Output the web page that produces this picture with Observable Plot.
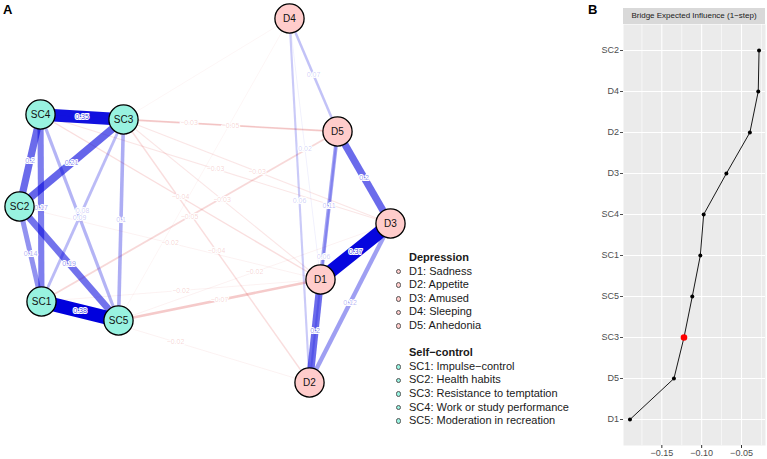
<!DOCTYPE html>
<html><head><meta charset="utf-8">
<script src="https://cdn.jsdelivr.net/npm/d3@7"></script>
<script src="https://cdn.jsdelivr.net/npm/@observablehq/plot@0.6"></script>
<style>
body{margin:0;background:#fff;font-family:"Liberation Sans",Arial,sans-serif;}
#wrap{position:relative;width:767px;height:459px;overflow:hidden;background:#fff;}
#a{position:absolute;left:0;top:0;}
#b{position:absolute;left:590px;top:0;}
.plab{position:absolute;font-weight:bold;font-size:13px;color:#000;}
#legend{position:absolute;left:395px;top:251px;font-size:11px;color:#1a1a1a;}
#legend .row{position:relative;height:13.6px;line-height:13.6px;padding-left:14px;white-space:nowrap;}
#legend .ttl{font-weight:bold;}
#legend .dot{position:absolute;left:0.5px;top:4.3px;width:3.6px;height:3.6px;border-radius:50%;border:0.8px solid #555;}
#strip{position:absolute;left:623px;top:8px;width:142px;height:16px;background:#D9D9D9;font-size:8px;color:#1a1a1a;text-align:center;line-height:16px;}
</style></head>
<body>
<div id="wrap">
  <div id="a"></div>
  <div id="b"></div>
  <div class="plab" style="left:3px;top:2px;">A</div>
  <div class="plab" style="left:588px;top:2px;">B</div>
  <div id="strip">Bridge Expected Influence (1−step)</div>
  <div id="legend"></div>
</div>
<script>
// ---------- Panel A data: network ----------
const nodeNames = ["D1","D2","D3","D4","D5","SC1","SC2","SC3","SC4","SC5"];
const nodeGroup = ["Depression","Depression","Depression","Depression","Depression","Self−control","Self−control","Self−control","Self−control","Self−control"];
// layout coordinates (as placed in the reference layout)
const nodeX = [320, 309, 390, 289, 337, 41, 19, 123, 40, 118];
const nodeY = [279, 382, 223, 18, 131, 301, 206, 119, 114, 320];
const groupNames = ["Depression","Self−control"];
const groupColors = ["#FFCCCB","#98F2E0"];
const legendDepression = ["D1: Sadness","D2: Appetite","D3: Amused","D4: Sleeping","D5: Anhedonia"];
const legendSelfControl = ["SC1: Impulse−control","SC2: Health habits","SC3: Resistance to temptation","SC4: Work or study performance","SC5: Moderation in recreation"];

const edgeFrom = ["SC1","SC3","D1","SC2","SC2","SC2","SC1","SC1","SC3","SC4","SC1","D3","D1","D2","D1","D4","D2","D2","D1",
  "SC4","SC3","SC4","SC3","SC4","SC3","SC3","SC1","SC2","SC1","SC5","SC5","SC1","SC3","SC5"];
const edgeTo   = ["SC5","SC4","D3","SC3","SC4","SC5","SC4","SC2","SC5","SC5","SC3","D5","D2","D3","D5","D5","D4","D5","D4",
  "D5","D5","D3","D3","D1","D1","D2","D5","D1","D1","D1","D3","D2","D4","D4"];
const edgeWeight = [0.38,0.35,0.37,0.21,0.2,0.19,0.17,0.14,0.1,0.09,0.08,0.2,0.2,0.12,0.11,0.07,0.06,0.06,0.02,
  -0.03,-0.05,-0.03,-0.03,-0.04,-0.03,-0.04,-0.05,-0.02,-0.02,-0.07,-0.02,-0.02,-0.01,-0.01];

const posColor = "#0000DD", negColor = "#D42020";
const maxW = d3.max(edgeWeight, Math.abs);
const nodes = nodeNames.map((n,i)=>({name:n, x:nodeX[i], y:nodeY[i], group:nodeGroup[i]}));
const byName = new Map(nodes.map(n=>[n.name,n]));
const edges = edgeFrom.map((f,i)=>({from:byName.get(f), to:byName.get(edgeTo[i]), w:edgeWeight[i]}))
  .sort((a,b)=>Math.abs(a.w)-Math.abs(b.w));
const labelled = edges.filter(e=>Math.abs(e.w)>=0.015);
const eCol = e => e.w>0 ? posColor : negColor;
const eOp = e => Math.max(0.07, Math.pow(Math.abs(e.w)/maxW, 0.85));
const eLab = e => (e.w<0?"−":"") + String(Math.abs(e.w));
const gCol = g => groupColors[groupNames.indexOf(g)];

const plotA = Plot.plot({
  width:590, height:459, margin:0,
  x:{domain:[0,590], range:[0,590], axis:null},
  y:{domain:[0,459], range:[0,459], axis:null},
  color:{type:"identity"},
  opacity:{type:"identity"},
  style:{fontFamily:"'Liberation Sans', Arial, sans-serif", background:"transparent"},
  marks:[
    Plot.link(edges, {x1:e=>e.from.x, y1:e=>e.from.y, x2:e=>e.to.x, y2:e=>e.to.y,
      stroke:eCol, strokeOpacity:eOp, strokeWidth:e=>Math.max(0.6, Math.abs(e.w)*36), strokeLinecap:"butt"}),
    Plot.text(labelled, {x:e=>(e.from.x+e.to.x)/2, y:e=>(e.from.y+e.to.y)/2, text:eLab,
      fill:eCol, fillOpacity:e=>Math.min(1,Math.max(0.2,eOp(e)*0.8)), stroke:"white", strokeWidth:2, fontSize:7}),
    Plot.dot(nodes, {x:"x", y:"y", r:14.6, fill:d=>gCol(d.group), stroke:"black", strokeWidth:1.3}),
    Plot.text(nodes, {x:"x", y:"y", text:"name", fontSize:10, fill:"#111"})
  ]
});
document.getElementById("a").append(plotA);

// legend
const leg = document.getElementById("legend");
function addRow(txt, cls, col){
  const r = document.createElement("div"); r.className = "row" + (cls?" "+cls:"");
  if(col){ const s=document.createElement("span"); s.className="dot"; s.style.background=col; r.append(s); }
  r.append(document.createTextNode(txt)); leg.append(r);
}
addRow(groupNames[0], "ttl");
legendDepression.forEach(t=>addRow(t,"",groupColors[0]));
addRow("\u00a0","");
addRow(groupNames[1], "ttl");
legendSelfControl.forEach(t=>addRow(t,"",groupColors[1]));

// ---------- Panel B data ----------
const bNodes = ["SC2","D4","D2","D3","SC4","SC1","SC5","SC3","D5","D1"];
const bValues = [-0.028,-0.029,-0.0395,-0.069,-0.0975,-0.1017,-0.1118,-0.1222,-0.1348,-0.190];
const bHighlight = "SC3";
const xTicks = [-0.15,-0.10,-0.05];
const xMinor = [-0.175,-0.125,-0.075,-0.025];

const bData = bNodes.map((n,i)=>({node:n, value:bValues[i]}));
const ext = d3.extent(bValues); const pad = (ext[1]-ext[0])*0.05;
const fmt = d => d.toFixed(2).replace("-","−");

const plotB = Plot.plot({
  width:177, height:459, marginTop:24, marginBottom:14, marginLeft:33, marginRight:2,
  x:{domain:[ext[0]-pad, ext[1]+pad]},
  y:{type:"point", domain:bNodes, padding:0.6},
  style:{fontFamily:"'Liberation Sans', Arial, sans-serif", fontSize:"9px", color:"#4D4D4D", background:"transparent"},
  marks:[
    Plot.frame({fill:"#EBEBEB", stroke:null}),
    Plot.ruleX(xMinor, {stroke:"white", strokeWidth:0.6}),
    Plot.ruleX(xTicks, {stroke:"white", strokeWidth:1.1}),
    Plot.ruleY(bNodes, {stroke:"white", strokeWidth:1.1}),
    Plot.axisX({ticks:xTicks, tickFormat:fmt, tickSize:3, tickPadding:1.5, label:null, fontSize:9, stroke:"#333"}),
    Plot.axisY({tickSize:3, tickPadding:1.5, label:null, fontSize:9}),
    Plot.line(bData, {x:"value", y:"node", stroke:"black", strokeWidth:0.9}),
    Plot.dot(bData.filter(d=>d.node!==bHighlight), {x:"value", y:"node", r:2, fill:"black"}),
    Plot.dot(bData.filter(d=>d.node===bHighlight), {x:"value", y:"node", r:3.3, fill:"red"})
  ]
});
document.getElementById("b").append(plotB);
</script>
</body></html>
